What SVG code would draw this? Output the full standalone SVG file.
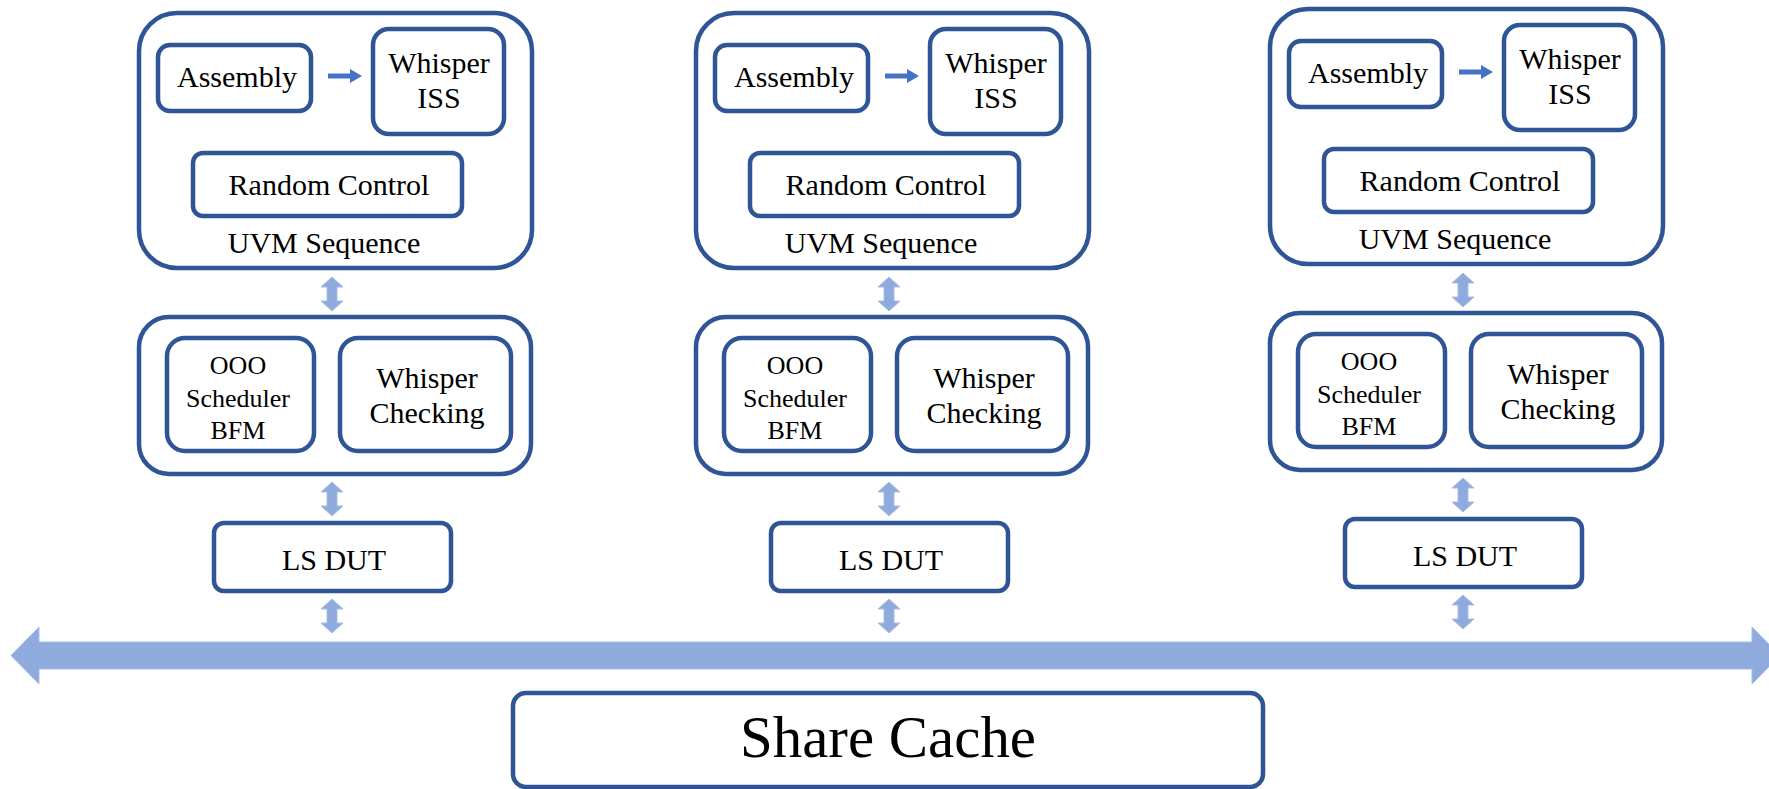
<svg xmlns="http://www.w3.org/2000/svg" width="1769" height="789" viewBox="0 0 1769 789">
<style>
.box{fill:#ffffff;stroke:#2F5597;stroke-width:4.5}
text{font-family:"Liberation Serif","Times New Roman",serif;font-size:30px;fill:#000000;text-anchor:middle}
.ts{font-size:26px}
.dbl{fill:#8FAADC;stroke:#A6BFE6;stroke-width:1}
.sm{fill:#4472C4}
</style>
<defs>
<path id="vdbl" d="M0,0 L11,10 L5,10 L5,24 L11,24 L0,34 L-11,24 L-5,24 L-5,10 L-11,10 Z"/>
<path id="harr" d="M0,-2.5 L22,-2.5 L22,-7 L34,0 L22,7 L22,2.5 L0,2.5 Z"/>
</defs>
<rect width="1769" height="789" fill="#ffffff"/>

<g id="col1">
  <g id="uvm1"><rect class="box" x="139" y="13" width="393" height="255" rx="38"/><text x="324" y="253">UVM Sequence</text></g>
  <g id="asm1"><rect class="box" x="158" y="45" width="153" height="66" rx="12"/><text x="237" y="87">Assembly</text></g>
  <g id="iss1"><rect class="box" x="373" y="29" width="131" height="105" rx="16"/><text x="439" y="73">Whisper</text><text x="439" y="108">ISS</text></g>
  <g id="rnd1"><rect class="box" x="193" y="153" width="269" height="63" rx="10"/><text x="329" y="195">Random Control</text></g>
  <g id="mid1"><rect class="box" x="139" y="317" width="392" height="157" rx="30"/></g>
  <g id="ooo1"><rect class="box" x="167" y="338" width="147" height="113" rx="18"/><text class="ts" x="238" y="374">OOO</text><text class="ts" x="238" y="407">Scheduler</text><text class="ts" x="238" y="439">BFM</text></g>
  <g id="chk1"><rect class="box" x="340" y="338" width="171" height="113" rx="18"/><text x="427" y="388">Whisper</text><text x="427" y="423">Checking</text></g>
  <g id="dut1"><rect class="box" x="214" y="523" width="237" height="68" rx="10"/><text x="334" y="570">LS DUT</text></g>
</g>

<g id="col2" transform="translate(557,0)">
  <g id="uvm2"><rect class="box" x="139" y="13" width="393" height="255" rx="38"/><text x="324" y="253">UVM Sequence</text></g>
  <g id="asm2"><rect class="box" x="158" y="45" width="153" height="66" rx="12"/><text x="237" y="87">Assembly</text></g>
  <g id="iss2"><rect class="box" x="373" y="29" width="131" height="105" rx="16"/><text x="439" y="73">Whisper</text><text x="439" y="108">ISS</text></g>
  <g id="rnd2"><rect class="box" x="193" y="153" width="269" height="63" rx="10"/><text x="329" y="195">Random Control</text></g>
  <g id="mid2"><rect class="box" x="139" y="317" width="392" height="157" rx="30"/></g>
  <g id="ooo2"><rect class="box" x="167" y="338" width="147" height="113" rx="18"/><text class="ts" x="238" y="374">OOO</text><text class="ts" x="238" y="407">Scheduler</text><text class="ts" x="238" y="439">BFM</text></g>
  <g id="chk2"><rect class="box" x="340" y="338" width="171" height="113" rx="18"/><text x="427" y="388">Whisper</text><text x="427" y="423">Checking</text></g>
  <g id="dut2"><rect class="box" x="214" y="523" width="237" height="68" rx="10"/><text x="334" y="570">LS DUT</text></g>
</g>

<g id="col3" transform="translate(1131,-4)">
  <g id="uvm3"><rect class="box" x="139" y="13" width="393" height="255" rx="38"/><text x="324" y="253">UVM Sequence</text></g>
  <g id="asm3"><rect class="box" x="158" y="45" width="153" height="66" rx="12"/><text x="237" y="87">Assembly</text></g>
  <g id="iss3"><rect class="box" x="373" y="29" width="131" height="105" rx="16"/><text x="439" y="73">Whisper</text><text x="439" y="108">ISS</text></g>
  <g id="rnd3"><rect class="box" x="193" y="153" width="269" height="63" rx="10"/><text x="329" y="195">Random Control</text></g>
  <g id="mid3"><rect class="box" x="139" y="317" width="392" height="157" rx="30"/></g>
  <g id="ooo3"><rect class="box" x="167" y="338" width="147" height="113" rx="18"/><text class="ts" x="238" y="374">OOO</text><text class="ts" x="238" y="407">Scheduler</text><text class="ts" x="238" y="439">BFM</text></g>
  <g id="chk3"><rect class="box" x="340" y="338" width="171" height="113" rx="18"/><text x="427" y="388">Whisper</text><text x="427" y="423">Checking</text></g>
  <g id="dut3"><rect class="box" x="214" y="523" width="237" height="68" rx="10"/><text x="334" y="570">LS DUT</text></g>
</g>

<g id="cache"><rect class="box" x="513" y="693" width="750" height="94" rx="13"/><text x="888" y="757" style="font-size:60px" textLength="296" lengthAdjust="spacingAndGlyphs">Share Cache</text></g>

<g id="connectors">
  <use href="#harr" class="sm" x="328" y="76"/>
  <use href="#harr" class="sm" x="885" y="76"/>
  <use href="#harr" class="sm" x="1459" y="72"/>
  <use href="#vdbl" class="dbl" x="332" y="277"/>
  <use href="#vdbl" class="dbl" x="332" y="482"/>
  <use href="#vdbl" class="dbl" x="332" y="599"/>
  <use href="#vdbl" class="dbl" x="889" y="277"/>
  <use href="#vdbl" class="dbl" x="889" y="482"/>
  <use href="#vdbl" class="dbl" x="889" y="599"/>
  <use href="#vdbl" class="dbl" x="1463" y="273"/>
  <use href="#vdbl" class="dbl" x="1463" y="478"/>
  <use href="#vdbl" class="dbl" x="1463" y="595"/>
  <path class="dbl" d="M11,655.5 L39,627 L39,642 L1752,642 L1752,627 L1780,655.5 L1752,684 L1752,669 L39,669 L39,684 Z"/>
</g>
</svg>
